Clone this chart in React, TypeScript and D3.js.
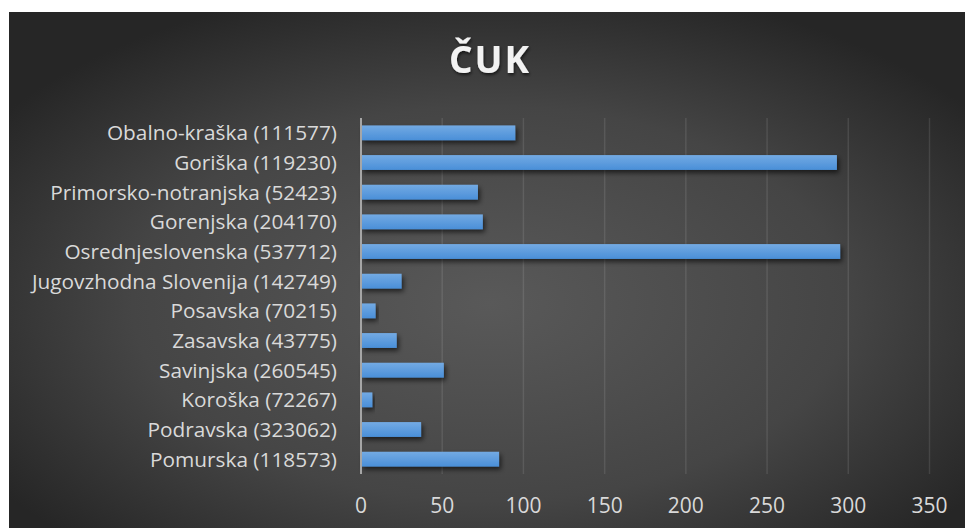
import React from 'react';
import * as d3 from 'd3';

const categories = [
  'Obalno-kraška (111577)',
  'Goriška (119230)',
  'Primorsko-notranjska (52423)',
  'Gorenjska (204170)',
  'Osrednjeslovenska (537712)',
  'Jugovzhodna Slovenija (142749)',
  'Posavska (70215)',
  'Zasavska (43775)',
  'Savinjska (260545)',
  'Koroška (72267)',
  'Podravska (323062)',
  'Pomurska (118573)',
];
const values = [95, 293, 72, 75, 295, 25, 9, 22, 51, 7, 37, 85];
const xTicks = [0, 50, 100, 150, 200, 250, 300, 350];
const title = 'ČUK';

const W = 965;
const H = 528;
const FONT = "'Open Sans', 'DejaVu Sans', sans-serif";

export default function App() {
  const x = d3.scaleLinear().domain([0, 350]).range([361, 929.5]);
  const y = d3.scaleBand<string>().domain(categories).range([118, 474]).paddingInner(0.5).paddingOuter(0.25);

  return (
    <svg width={W} height={H} style={{ position: 'absolute', left: 0, top: 0 }}>
      <defs>
        <radialGradient id="bg" cx="0.5" cy="0.55" r="0.62" gradientUnits="objectBoundingBox">
          <stop offset="0" stopColor="#595959" />
          <stop offset="0.6" stopColor="#454545" />
          <stop offset="1" stopColor="#262626" />
        </radialGradient>
        <linearGradient id="bar" x1="0" y1="0" x2="0" y2="1">
          <stop offset="0" stopColor="#73aae3" />
          <stop offset="1" stopColor="#4a8fd8" />
        </linearGradient>
        <filter id="shadow" x="-10%" y="-50%" width="130%" height="250%">
          <feDropShadow dx="2" dy="3" stdDeviation="2.5" floodColor="#000" floodOpacity="0.6" />
        </filter>
        <filter id="tshadow" x="-20%" y="-20%" width="140%" height="160%">
          <feDropShadow dx="1" dy="2" stdDeviation="1.5" floodColor="#000" floodOpacity="0.6" />
        </filter>
      </defs>
      <rect x={9} y={12} width={962} height={530} fill="url(#bg)" />
      <text
        x={490}
        y={73}
        textAnchor="middle"
        fontFamily={FONT}
        fontWeight="bold"
        fontSize={37}
        letterSpacing={2}
        fill="#f2f2f2"
        filter="url(#tshadow)"
      >
        {title}
      </text>
      {xTicks.filter((t) => t > 0).map((t) => (
        <line key={t} x1={x(t)} x2={x(t)} y1={118} y2={474} stroke="#ffffff" strokeOpacity={0.1} strokeWidth={1.5} />
      ))}
      {categories.map((c, i) => (
        <rect
          key={c}
          x={x(0)}
          y={y(c)}
          width={x(values[i]) - x(0)}
          height={y.bandwidth()}
          fill="url(#bar)"
          filter="url(#shadow)"
        />
      ))}
      <line x1={x(0)} x2={x(0)} y1={118} y2={474} stroke="#a6a6a6" strokeWidth={2} />
      {categories.map((c) => (
        <text
          key={c}
          x={337}
          y={(y(c) as number) + y.bandwidth() / 2}
          dy="0.36em"
          textAnchor="end"
          fontFamily={FONT}
          fontSize={20.8}
          fill="#d9d9d9"
        >
          {c}
        </text>
      ))}
      {xTicks.map((t) => (
        <text
          key={t}
          x={x(t)}
          y={505}
          dy="0.36em"
          textAnchor="middle"
          fontFamily={FONT}
          fontSize={21}
          fill="#d9d9d9"
        >
          {t}
        </text>
      ))}
    </svg>
  );
}
